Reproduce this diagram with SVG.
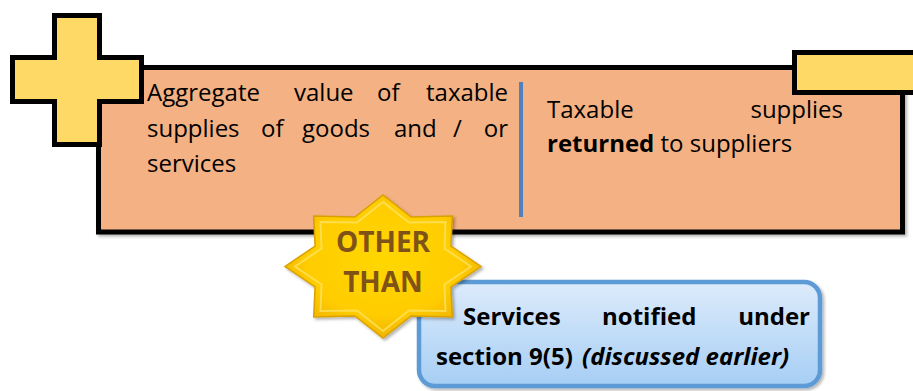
<svg xmlns="http://www.w3.org/2000/svg" width="913" height="391" viewBox="0 0 913 391">
<defs>
<linearGradient id="blueGrad" x1="0" y1="0" x2="0" y2="1">
<stop offset="0" stop-color="#DDEBFB"/>
<stop offset="1" stop-color="#A6CEF4"/>
</linearGradient>
<radialGradient id="starGrad" cx="0.5" cy="0.45" r="0.6">
<stop offset="0" stop-color="#FFD700"/>
<stop offset="0.65" stop-color="#FFCC00"/>
<stop offset="1" stop-color="#EBAE00"/>
</radialGradient>
<filter id="shadow" x="-10%" y="-10%" width="130%" height="130%">
<feDropShadow dx="2" dy="2" stdDeviation="1.5" flood-color="#000" flood-opacity="0.3"/>
</filter>
<style>
.txt{font-family:"Open Sans","Noto Sans","Liberation Sans",sans-serif;font-size:24px;fill:#000;}
.b{font-weight:bold;}
.it{font-style:italic;font-weight:bold;}
.star{font-family:"Open Sans","Noto Sans","Liberation Sans",sans-serif;font-size:28px;font-weight:bold;fill:#7F5217;text-anchor:middle;}
.yellow{fill:#FFD966;stroke:#000;stroke-width:5;}
</style>
</defs>

<g id="main-box">
<rect x="98.5" y="67.5" width="804" height="164.5" fill="#F4B183" stroke="#000" stroke-width="5" filter="url(#shadow)"/>
<line x1="521" y1="82" x2="521" y2="217" stroke="#4F81BD" stroke-width="4"/>
<text class="txt"><tspan x="147" y="101">Aggregate</tspan><tspan x="294" y="101">value</tspan><tspan x="377" y="101">of</tspan><tspan x="508" y="101" text-anchor="end">taxable</tspan></text>
<text class="txt"><tspan x="147" y="137">supplies</tspan><tspan x="261" y="137">of</tspan><tspan x="302" y="137">goods</tspan><tspan x="394" y="137">and</tspan><tspan x="453" y="137">/</tspan><tspan x="508" y="137" text-anchor="end">or</tspan></text>
<text class="txt" x="147" y="172">services</text>
<text class="txt"><tspan x="547" y="118">Taxable</tspan><tspan x="843" y="118" text-anchor="end">supplies</tspan></text>
<text class="txt" x="547" y="152"><tspan class="b">returned</tspan> to suppliers</text>
</g>

<g id="plus-sign">
<path class="yellow" d="M54.5,15.5 H99.5 V57.5 H141.5 V101.5 H99.5 V144.5 H54.5 V101.5 H12.5 V57.5 H54.5 Z"/>
</g>

<g id="top-right-tab">
<rect class="yellow" x="794.5" y="52.5" width="130" height="40"/>
</g>

<g id="services-box">
<rect x="419" y="282" width="401" height="104" rx="16" fill="url(#blueGrad)" stroke="#5B9BD5" stroke-width="4.5" filter="url(#shadow)"/>
<text class="txt b"><tspan x="463" y="325">Services</tspan><tspan x="602" y="325">notified</tspan><tspan x="810" y="325" text-anchor="end">under</tspan></text>
<text class="txt b" x="436" y="365">section 9(5) <tspan class="it" x="582">(discussed earlier)</tspan></text>
</g>

<g id="other-than-star">
<path d="M383,195 L411.1,217 L452.3,215.9 L450.9,246 L481,266.5 L450.9,287 L452.3,317.1 L411.1,316 L383,338 L354.9,316 L313.7,317.1 L315.1,287 L285,266.5 L315.1,246 L313.7,215.9 L354.9,217 Z" fill="url(#starGrad)" stroke="#D9A000" stroke-width="1.5" stroke-linejoin="miter" filter="url(#shadow)"/>
<path d="M383,202 L409,222.5 L445.5,222 L444.5,248.5 L471,266.5 L444.5,284.5 L445.5,311 L409,310.5 L383,331 L357,310.5 L320.5,311 L321.5,284.5 L295,266.5 L321.5,248.5 L320.5,222 L357,222.5 Z" fill="none" stroke="#FFE56E" stroke-width="2" opacity="0.7"/>
<text class="star" x="383" y="252">OTHER</text>
<text class="star" x="383" y="292">THAN</text>
</g>
</svg>
